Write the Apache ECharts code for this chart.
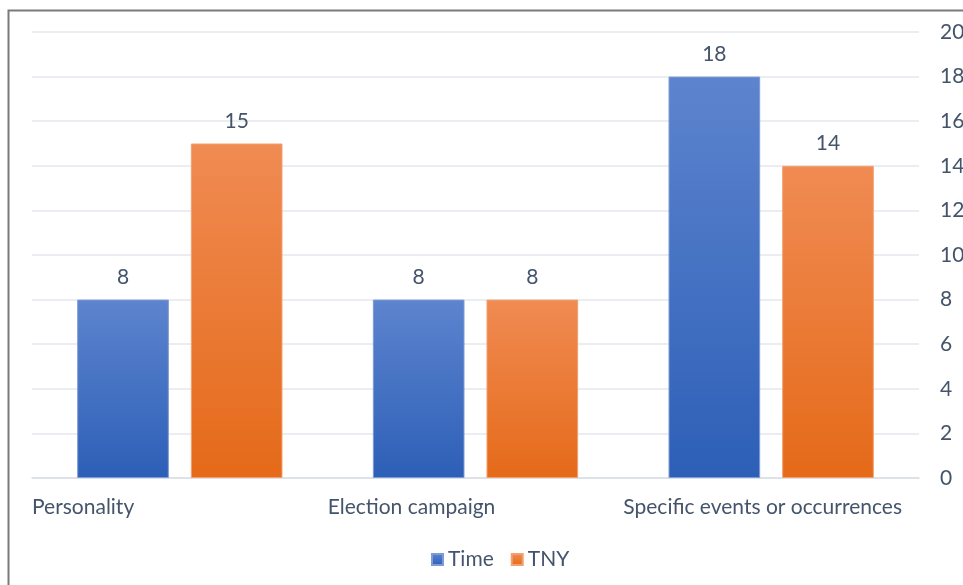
<!DOCTYPE html>
<html>
<head>
<meta charset="utf-8">
<script src="https://cdn.jsdelivr.net/npm/echarts@6/dist/echarts.min.js"></script>
<style>
  html, body { margin: 0; padding: 0; background: #fff; }
  #chart { width: 963px; height: 585px; }
</style>
</head>
<body>
<div id="chart"></div>
<script>
// Category names and counts per magazine
const categories = ['Personality', 'Election campaign', 'Specific events or occurrences'];
const timeValues = [8, 8, 18];
const tnyValues = [15, 8, 14];
const seriesNames = ['Time', 'TNY'];

const textColor = '#44546a';
const font = 'Lato, "Open Sans", sans-serif';
const fontSize = 21;

function grad(top, bottom) {
  return new echarts.graphic.LinearGradient(0, 0, 0, 1, [
    { offset: 0, color: top },
    { offset: 1, color: bottom }
  ]);
}

const chart = echarts.init(document.getElementById('chart'));
chart.setOption({
  animation: false,
  backgroundColor: '#fff',
  graphic: [{
    type: 'rect',
    shape: { x: 8.5, y: 10.5, width: 1000, height: 700 },
    style: { fill: 'none', stroke: '#7a7a7a', lineWidth: 2 },
    silent: true
  }],
  grid: { left: 32, right: 44, top: 32, bottom: 107, outerBoundsMode: 'none', containLabel: false },
  legend: {
    data: seriesNames,
    top: 544,
    left: 426,
    itemWidth: 11,
    itemHeight: 11,
    itemGap: 17,
    icon: 'rect',
    textStyle: { color: textColor, fontSize: fontSize, fontFamily: font }
  },
  xAxis: [{
    type: 'category',
    data: categories,
    axisLine: { show: true, lineStyle: { color: '#d9dee6', width: 1.5 } },
    axisTick: { show: false },
    axisLabel: { show: false }
  }, {
    // Labels anchored at the left edge of each category band
    type: 'category',
    position: 'bottom',
    boundaryGap: false,
    data: categories.concat(['']),
    axisLine: { show: false },
    axisTick: { show: false },
    splitLine: { show: false },
    axisLabel: {
      interval: 0,
      align: 'left',
      margin: 19,
      color: textColor,
      fontSize: fontSize,
      fontFamily: font
    }
  }],
  yAxis: {
    type: 'value',
    position: 'right',
    min: 0,
    max: 20,
    interval: 2,
    axisLine: { show: false },
    axisTick: { show: false },
    splitLine: { lineStyle: { color: '#e3e7ed', width: 1.5 } },
    axisLabel: {
      align: 'left',
      margin: 21,
      color: textColor,
      fontSize: fontSize,
      fontFamily: font
    }
  },
  series: [{
    name: 'Time',
    type: 'bar',
    data: timeValues,
    barWidth: '31%',
    barGap: '24%',
    itemStyle: {
      color: grad('#5d84ce', '#2d5fb7'),
      borderColor: '#7d9bd6',
      borderWidth: 1
    },
    label: {
      show: true,
      position: 'top',
      distance: 12,
      color: textColor,
      fontSize: fontSize,
      fontFamily: font
    }
  }, {
    name: 'TNY',
    type: 'bar',
    data: tnyValues,
    barWidth: '31%',
    barGap: '24%',
    itemStyle: {
      color: grad('#f08b53', '#e56a19'),
      borderColor: '#f2a06f',
      borderWidth: 1
    },
    label: {
      show: true,
      position: 'top',
      distance: 12,
      color: textColor,
      fontSize: fontSize,
      fontFamily: font
    }
  }],
  color: ['#4472c4', '#ed7d31']
});
</script>
</body>
</html>
